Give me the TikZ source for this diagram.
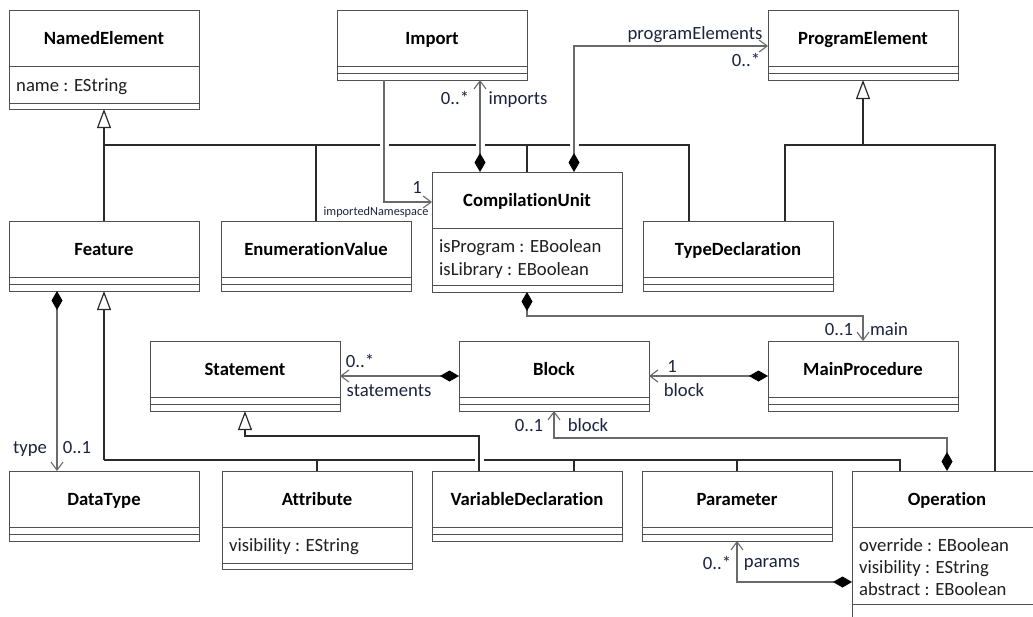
\documentclass[tikz,border=0pt]{standalone}
\usepackage{fontspec}
\setmainfont{Carlito}[Ligatures=NoCommon]
\usetikzlibrary{arrows.meta,calc}

\definecolor{boxline}{HTML}{505050}
\definecolor{genline}{HTML}{2A2A2A}
\definecolor{assocline}{HTML}{6A6A6A}
\definecolor{labelink}{HTML}{1C2340}

\tikzset{
  clsbox/.style={draw=boxline, line width=1pt, fill=white, minimum width=190pt,
    inner sep=0pt, outer sep=0pt},
  clsdiv/.style={draw=boxline, line width=1pt},
  clstitle/.style={font=\fontsize{18.67pt}{23pt}\selectfont\bfseries, text=black,
    inner sep=0pt, text height=12.5pt, text depth=0pt},
  clsattr/.style={font=\fontsize{18.67pt}{23pt}\selectfont, text=black!88,
    inner sep=0pt},
  genl/.style={draw=genline, line width=1.2pt},
  gen/.style={genl, -{Triangle[length=19pt,width=14pt,fill=white,line width=1.2pt]}},
  assoc/.style={draw=assocline, line width=1.1pt,
    -{Straight Barb[length=8pt,width=12pt,line width=1.1pt]}},
  comp/.style={draw=assocline, line width=1.1pt,
    {Diamond[length=19pt,width=11pt,fill=black,color=black]}-{Straight Barb[length=8pt,width=12pt,line width=1.1pt]}},
  lbl/.style={font=\fontsize{18.67pt}{23pt}\selectfont, text=labelink,
    inner sep=0pt, text height=12pt, text depth=0pt},
  lblsmall/.style={font=\fontsize{12.3pt}{14pt}\selectfont, text=labelink,
    inner sep=0pt, text height=8pt, text depth=0pt},
}

% UML class: id, left, top, attribute height, operation height, name
\newcommand\umlclass[6]{%
  \node[clsbox, minimum height={(56+#4+#5)*1pt}, anchor=north west] (#1) at (#2,#3) {};
  \draw[clsdiv] ([yshift=-56pt]#1.north west) -- ([yshift=-56pt]#1.north east);
  \draw[clsdiv] ([yshift={-(56+#4)*1pt}]#1.north west) -- ([yshift={-(56+#4)*1pt}]#1.north east);
  \node[clstitle] (#1-t) at ([yshift=-28pt]#1.north) {#6};
}
% attribute line: node name, class id, baseline offset from top, text
\newcommand\umlattr[4]{%
  \node[clsattr, anchor=base west] (#1) at ([xshift=7pt,yshift={-(#3)*1pt}]#2.north west) {#4};
}

\begin{document}
\begin{tikzpicture}[x=1pt, y=-1pt]
\useasboundingbox (0,0) rectangle (1033,616);
\clip (0,0) rectangle (1033,616);
\fill[white] (0,0) rectangle (1033,616);

% classes
\umlclass{ne}{9}{10}{37}{6}{NamedElement}
\umlattr{ne-a1}{ne}{81}{name : EString}
\umlclass{imp}{337}{10}{7}{7}{Import}
\umlclass{pe}{768}{10}{7}{7}{ProgramElement}
\umlclass{feat}{9}{221}{7}{7}{Feature}
\umlclass{enum}{221}{221}{7}{7}{EnumerationValue}
\umlclass{cu}{432}{172}{57}{7}{CompilationUnit}
\umlattr{cu-a1}{cu}{80}{isProgram : EBoolean}
\umlattr{cu-a2}{cu}{103}{isLibrary : EBoolean}
\umlclass{td}{643}{221}{7}{7}{TypeDeclaration}
\umlclass{stmt}{150}{341}{7}{7}{Statement}
\umlclass{blk}{459}{341}{7}{7}{Block}
\umlclass{mp}{768}{341}{7}{7}{MainProcedure}
\umlclass{dt}{9}{471}{7}{7}{DataType}
\umlclass{attr}{222}{471}{36}{6}{Attribute}
\umlattr{attr-a1}{attr}{80}{visibility : EString}
\umlclass{vd}{432}{471}{7}{7}{VariableDeclaration}
\umlclass{par}{642}{471}{7}{7}{Parameter}
\umlclass{op}{852}{471}{77}{20}{Operation}
\umlattr{op-a1}{op}{80}{override : EBoolean}
\umlattr{op-a2}{op}{102}{visibility : EString}
\umlattr{op-a3}{op}{124}{abstract : EBoolean}

% generalizations to NamedElement (bus broken where associations cross)
\coordinate (neJ) at (104,145);
\draw[gen] (feat.north) -- (ne.south);
\draw[genl] (neJ) -- (379.5,145) (388.5,145) -- (475.5,145) (484.5,145) -- (569.5,145)
  (578.5,145) -| ([xshift=-49pt]td.north);
\draw[genl] (enum.north) -- (enum.north |- neJ);
\draw[genl] (cu.north) -- (cu.north |- neJ);

% generalizations to ProgramElement
\coordinate (peJ) at (863,145);
\draw[gen] (peJ) -- (pe.south);
\draw[genl] ([xshift=47pt]td.north) |- (peJ) -| ([xshift=48pt]op.north);

% generalizations to Feature
\coordinate (featJ) at (104,460);
\draw[gen] (featJ) -- (feat.south);
\draw[genl] (featJ) -- (475,460) (484,460) -| ([xshift=-47pt]op.north);
\draw[genl] (attr.north) -- (attr.north |- featJ);
\draw[genl] ([xshift=47pt]vd.north) -- ([xshift=47pt]vd.north |- featJ);
\draw[genl] (par.north) -- (par.north |- featJ);

% generalization to Statement
\draw[gen] ([xshift=-48pt]vd.north) |- ([yshift=-25pt]stmt.south) -- (stmt.south);

% associations
\draw[assoc] ([xshift=47pt]imp.south west) |- ([yshift=-30pt]cu.north west);
\draw[comp] ([xshift=48pt]cu.north west) -- ([xshift=143pt]imp.south west);
\draw[comp] ([xshift=142pt]cu.north west) |- ([yshift=-36pt]pe.north west);
\draw[comp] (cu.south) -- ++(0,24) -| (mp.north);
\draw[comp] ([yshift=-35pt]blk.north west) -- ([yshift=-35pt]stmt.north east);
\draw[comp] ([yshift=-35pt]mp.north west) -- ([yshift=-35pt]blk.north east);
\draw[comp] (op.north) |- ([yshift=-27pt]blk.south) -- (blk.south);
\draw[comp] ([yshift=-111pt]op.north west) -| (par.south);
\draw[comp] ([xshift=48pt]feat.south west) -- ([xshift=48pt]dt.north west);

% association end labels
\node[lbl] (l-imp-m) at (455,98) {0..*};
\node[lbl] (l-imp-r) at (518,98) {imports};
\node[lbl] (l-pe-r) at (695,33) {programElements};
\node[lbl] (l-pe-m) at (746,60) {0..*};
\node[lbl] (l-ns-m) at (417,187) {1};
\node[lblsmall] (l-ns-r) at (376,211) {importedNamespace};
\node[lbl] (l-main-m) at (839,329) {0..1};
\node[lbl] (l-main-r) at (889,329) {main};
\node[lbl] (l-mb-m) at (672,366) {1};
\node[lbl] (l-mb-r) at (684,390) {block};
\node[lbl] (l-st-m) at (360,361) {0..*};
\node[lbl] (l-st-r) at (389,390) {statements};
\node[lbl] (l-ob-m) at (529,425) {0..1};
\node[lbl] (l-ob-r) at (588,425) {block};
\node[lbl] (l-par-m) at (717,563) {0..*};
\node[lbl] (l-par-r) at (772,561) {params};
\node[lbl] (l-type-r) at (30,447) {type};
\node[lbl] (l-type-m) at (77,447) {0..1};
\end{tikzpicture}
\end{document}
